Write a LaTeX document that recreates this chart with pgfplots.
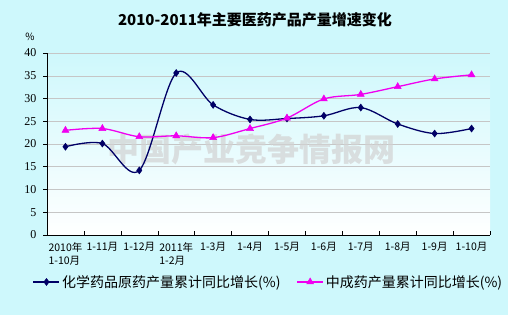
\documentclass[border=0pt]{standalone}
\usepackage{pgfplots}
\pgfplotsset{compat=1.18}
\usepackage{fontspec}
\setmainfont{Liberation Serif}
\newfontfamily\cjk{Noto Sans CJK SC}
\definecolor{bgc}{RGB}{206,248,252}
\definecolor{navyc}{RGB}{0,0,102}
\definecolor{magc}{RGB}{240,0,240}
\begin{document}
\begin{tikzpicture}[x=1pt,y=1pt]
\fill[bgc] (-47,-80) rectangle (461,235);
\begin{axis}[
  at={(0,0)}, anchor=south west,
  scale only axis, width=443pt, height=182pt,
  xmin=0, xmax=12, ymin=0, ymax=40,
  axis x line*=bottom, axis y line*=left,
  axis line style={-, black, line width=0.6pt},
  axis background/.style={shade, top color=bgc, bottom color=white},
  ytick={0,5,...,40},
  ymajorgrids, grid style={gray!45, line width=0.5pt},
  ytick align=outside, xtick align=inside,
  /pgf/number format/assume math mode=true,
  y tick label style={font=\fontsize{12}{14}\selectfont, xshift=-3pt},
  xtick={0,...,12}, xticklabels={},
  major tick length=4pt,
  tick style={black, line width=0.5pt},
  extra x ticks={0.5,1.5,...,11.5},
  extra x tick labels={{2010年\\1-10月},1-11月,1-12月,{2011年\\1-2月},1-3月,1-4月,1-5月,1-6月,1-7月,1-8月,1-9月,1-10月},
  extra x tick style={major tick length=0pt, grid=none, tick style={draw=none},
    tick label style={font=\cjk\fontsize{10.5}{13}\selectfont, align=left, anchor=north, yshift=-4pt}},
  legend columns=2,
  legend style={at={(0.5,-0.258)}, anchor=center, draw=none, fill=none,
    font=\cjk\fontsize{14}{16}\selectfont,
    /tikz/every even column/.append style={column sep=14pt}},
  legend image code/.code={\draw[mark repeat=2,mark phase=2] plot coordinates {(0pt,0pt) (13pt,0pt) (26pt,0pt)};},
  legend cell align=left,
  clip=false,
]
\node[text=gray!35, font=\cjk\bfseries\fontsize{32}{34}\selectfont, opacity=0.7] at (axis cs:5.55,18.7) {中国产业竞争情报网};
\addplot[navyc, line width=1.3pt, smooth, tension=0.55, mark=diamond*, mark size=3.5pt, mark options={fill=navyc, line width=0.5pt}]
 coordinates {(0.5,19.4) (1.5,20.1) (2.5,14.2) (3.5,35.6) (4.5,28.6) (5.5,25.4) (6.5,25.6) (7.5,26.2) (8.5,28.0) (9.5,24.4) (10.5,22.3) (11.5,23.4)};
\addlegendentry{化学药品原药产量累计同比增长(\%)}
\addplot[magc, line width=1.3pt, smooth, tension=0.55, mark=triangle*, mark size=4pt, mark options={fill=magc, line width=0.5pt}]
 coordinates {(0.5,23.0) (1.5,23.4) (2.5,21.6) (3.5,21.8) (4.5,21.4) (5.5,23.4) (6.5,25.7) (7.5,29.9) (8.5,30.9) (9.5,32.6) (10.5,34.3) (11.5,35.2)};
\addlegendentry{中成药产量累计同比增长(\%)}
\end{axis}
\node[font=\cjk\fontsize{10}{12}\selectfont] at (-17,198) {\%};
\node[font=\cjk\bfseries\fontsize{15}{17}\selectfont] at (208,215) {2010-2011年主要医药产品产量增速变化};
\pgfresetboundingbox
\path[use as bounding box] (-47,-80) rectangle (461,235);
\end{tikzpicture}
\end{document}
